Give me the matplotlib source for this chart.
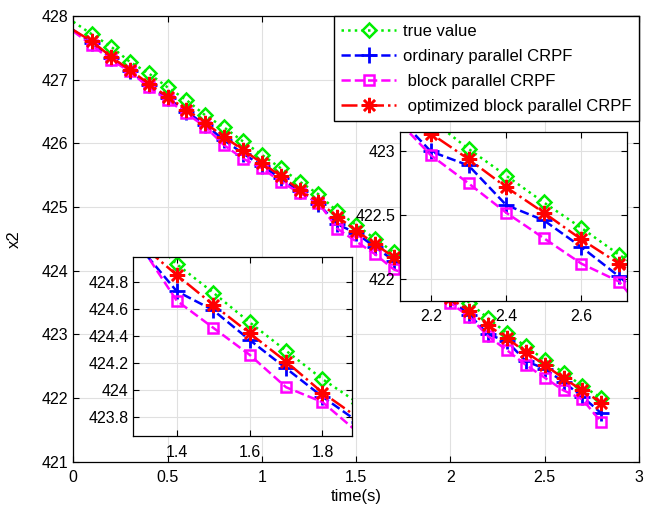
import matplotlib
matplotlib.use('Agg')
import matplotlib.pyplot as plt
from matplotlib.ticker import FormatStrFormatter

plt.rcParams['font.family'] = ['Liberation Sans', 'DejaVu Sans']

# time axis (s)
t = [0.0, 0.1, 0.2, 0.3, 0.4, 0.5, 0.6, 0.7, 0.8, 0.9, 1.0, 1.1, 1.2, 1.3, 1.4,
     1.5, 1.6, 1.7, 1.8, 1.9, 2.0, 2.1, 2.2, 2.3, 2.4, 2.5, 2.6, 2.7, 2.8]

true_value = [427.91, 427.71, 427.52, 427.28, 427.10, 426.88, 426.68, 426.44, 426.25, 426.03,
              425.82, 425.61, 425.40, 425.20, 424.93, 424.72, 424.50, 424.29, 424.08, 423.90,
              423.71, 423.50, 423.25, 423.02, 422.81, 422.60, 422.40, 422.19, 422.00]
ordinary = [427.78, 427.57, 427.34, 427.14, 426.91, 426.71, 426.50, 426.29, 426.05, 425.84,
            425.65, 425.45, 425.25, 425.05, 424.73, 424.59, 424.37, 424.16, 423.95, 423.76,
            423.54, 423.31, 423.00, 422.89, 422.58, 422.46, 422.25, 422.02, 421.76]
block = [427.76, 427.54, 427.31, 427.13, 426.88, 426.68, 426.47, 426.26, 425.97, 425.76,
         425.61, 425.40, 425.22, 425.07, 424.66, 424.46, 424.26, 424.02, 423.91, 423.68,
         423.49, 423.28, 422.97, 422.75, 422.52, 422.32, 422.12, 421.98, 421.62]
optimized = [427.78, 427.60, 427.36, 427.15, 426.94, 426.73, 426.53, 426.32, 426.10, 425.90,
             425.69, 425.49, 425.27, 425.08, 424.85, 424.63, 424.42, 424.21, 423.98, 423.79,
             423.57, 423.36, 423.14, 422.94, 422.72, 422.52, 422.31, 422.12, 421.93]

labels = ['true value', 'ordinary parallel CRPF', ' block parallel CRPF',
          ' optimized block parallel CRPF']

asterisk = (8, 2, 0)
styles = [
    dict(color='#00ee00', ls=':', marker='D', ms=7.5, mfc='none', mew=1.8),
    dict(color='#0000ff', ls='--', marker='+', ms=11, mew=2),
    dict(color='#ff00ff', ls='--', marker='s', ms=7.5, mfc='none', mew=1.8),
    dict(color='#ff0000', ls='-.', marker=asterisk, ms=11, mew=1.8),
]
series = [true_value, ordinary, block, optimized]


def draw(ax):
    lines = []
    for y, st, lab in zip(series, styles, labels):
        ln, = ax.plot(t, y, lw=1.8, markevery=slice(1, None), label=lab, **st)
        lines.append(ln)
    ax.grid(True, color='#e0e0e0', lw=0.8)
    ax.set_axisbelow(True)
    ax.tick_params(direction='in', top=True, right=True, length=4, width=0.8,
                   labelsize=11.5)
    ax.tick_params(axis='x', pad=6)
    for s in ax.spines.values():
        s.set_linewidth(0.9)
    return lines


fig = plt.figure(figsize=(6.51, 5.07), dpi=100)
ax = fig.add_axes([0.1126, 0.0893, 0.869, 0.8791])
lines = draw(ax)
ax.set_xlim(0, 3)
ax.set_ylim(421, 428)
ax.set_xticks([0, 0.5, 1, 1.5, 2, 2.5, 3])
ax.xaxis.set_major_formatter(FormatStrFormatter('%g'))
ax.set_xlabel('time(s)', fontsize=12, labelpad=3)
ax.set_ylabel('x2', fontsize=12, labelpad=14)
leg = ax.legend(loc='upper right', borderaxespad=0, fontsize=12, handlelength=3.3,
                numpoints=1, fancybox=False, framealpha=1, edgecolor='black',
                labelspacing=0.6, borderpad=0.45, handletextpad=0.4)
leg.get_frame().set_linewidth(1.0)

# inset 1
ax1 = fig.add_axes([0.2048, 0.1394, 0.3364, 0.3543])
draw(ax1)
ax1.set_xlim(1.281, 1.882)
ax1.set_ylim(423.657, 424.985)
ax1.set_xticks([1.4, 1.6, 1.8])
ax1.set_yticks([423.8, 424.0, 424.2, 424.4, 424.6, 424.8])
ax1.xaxis.set_major_formatter(FormatStrFormatter('%g'))
ax1.yaxis.set_major_formatter(FormatStrFormatter('%g'))

# inset 2
ax2 = fig.add_axes([0.6144, 0.4069, 0.3482, 0.3322])
draw(ax2)
ax2.set_xlim(2.118, 2.72)
ax2.set_ylim(421.83, 423.15)
ax2.set_xticks([2.2, 2.4, 2.6])
ax2.set_yticks([422.0, 422.5, 423.0])
ax2.xaxis.set_major_formatter(FormatStrFormatter('%g'))
ax2.yaxis.set_major_formatter(FormatStrFormatter('%g'))

fig.savefig('out.png', dpi=100)
